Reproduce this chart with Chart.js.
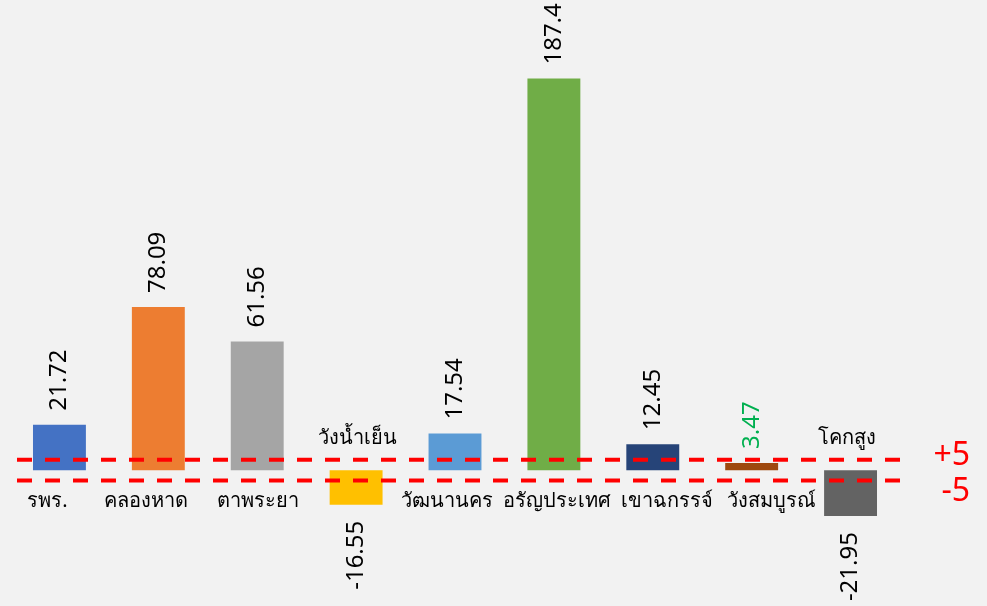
<!DOCTYPE html>
<html>
<head>
<meta charset="utf-8">
<script src="https://cdn.jsdelivr.net/npm/chart.js@4.4.1/dist/chart.umd.min.js"></script>
<style>
  html, body { margin: 0; padding: 0; background: #f2f2f2; }
  #wrap { width: 987px; height: 606px; }
</style>
</head>
<body>
<div id="wrap"><canvas id="chart"></canvas></div>
<script>
// หมวดหมู่ (อำเภอ) และค่าของแต่ละแท่ง
const categories = ['รพร.', 'คลองหาด', 'ตาพระยา', 'วังน้ำเย็น', 'วัฒนานคร', 'อรัญประเทศ', 'เขาฉกรรจ์', 'วังสมบูรณ์', 'โคกสูง'];
const values = [21.72, 78.09, 61.56, -16.55, 17.54, 187.4, 12.45, 3.47, -21.95];
const valueLabels = ['21.72', '78.09', '61.56', '-16.55', '17.54', '187.4', '12.45', '3.47', '-21.95'];
// เส้นเกณฑ์ +5 / -5
const thresholds = [5, -5];
const thresholdLabels = ['+5', '-5'];

const barColors = ['#4472c4', '#ed7d31', '#a5a5a5', '#ffc000', '#5b9bd5', '#70ad47', '#264478', '#9e480e', '#636363'];
const valueColors = ['#000', '#000', '#000', '#000', '#000', '#000', '#000', '#00b050', '#000'];
// เลื่อนป้ายชื่อเล็กน้อยให้ตรงกับต้นฉบับ (px)
const nameShift = [-12, -12, 1, 1, -8, 3, 14, 20, -4];

const FONT = "Tahoma, 'Leelawadee UI', 'Noto Sans', sans-serif";

// ปลั๊กอินวาดป้ายตัวเลข ป้ายชื่อ และเส้นประ
const labelPlugin = {
    id: 'labels',
    afterDatasetsDraw(chart) {
        const ctx = chart.ctx;
        const meta = chart.getDatasetMeta(0);
        const y = chart.scales.y;
        const zero = y.getPixelForValue(0);

        meta.data.forEach((bar, i) => {
            const v = values[i];
            // ตัวเลขแนวตั้ง
            ctx.save();
            ctx.font = '24px ' + FONT;
            ctx.fillStyle = valueColors[i];
            ctx.textBaseline = 'middle';
            if (v >= 0) {
                ctx.translate(bar.x, bar.y - 14);
                ctx.rotate(-Math.PI / 2);
                ctx.textAlign = 'left';
            } else {
                ctx.translate(bar.x, bar.y + 16);
                ctx.rotate(-Math.PI / 2);
                ctx.textAlign = 'right';
            }
            ctx.fillText(valueLabels[i], 0, 0);
            ctx.restore();

            // ชื่อหมวดหมู่
            ctx.save();
            ctx.font = '20px ' + FONT;
            ctx.fillStyle = '#000';
            ctx.textAlign = 'center';
            ctx.textBaseline = 'middle';
            const ly = v >= 0 ? zero + 31 : zero - 32;
            ctx.fillText(categories[i], bar.x + nameShift[i], ly);
            ctx.restore();
        });

        // เส้นประสีแดง
        const area = chart.chartArea;
        thresholds.forEach((t, k) => {
            const py = y.getPixelForValue(t);
            ctx.save();
            ctx.strokeStyle = '#ff0000';
            ctx.lineWidth = 4;
            ctx.setLineDash([15, 13]);
            ctx.beginPath();
            ctx.moveTo(area.left + 7, py);
            ctx.lineTo(area.right + 2, py);
            ctx.stroke();
            ctx.setLineDash([]);
            ctx.font = '32px ' + FONT;
            ctx.fillStyle = '#ff0000';
            ctx.textAlign = 'right';
            ctx.textBaseline = 'middle';
            ctx.fillText(thresholdLabels[k], area.right + 70, py + (t > 0 ? -4 : 11));
            ctx.restore();
        });
    }
};

const bgPlugin = {
    id: 'bg',
    beforeDraw(chart) {
        const ctx = chart.ctx;
        ctx.save();
        ctx.fillStyle = '#f2f2f2';
        ctx.fillRect(0, 0, chart.width, chart.height);
        ctx.restore();
    }
};

new Chart(document.getElementById('chart'), {
    type: 'bar',
    data: {
        labels: categories,
        datasets: [{
            data: values,
            backgroundColor: barColors,
            borderWidth: 0,
            barPercentage: 0.535,
            categoryPercentage: 1
        }]
    },
    options: {
        responsive: true,
        maintainAspectRatio: false,
        animation: false,
        layout: { padding: { left: 10, right: 87, top: 0, bottom: 0 } },
        plugins: {
            legend: { display: false },
            tooltip: { enabled: false }
        },
        scales: {
            x: { display: false },
            y: { display: false, min: -65, max: 225 }
        }
    },
    plugins: [bgPlugin, labelPlugin]
});
</script>
</body>
</html>
